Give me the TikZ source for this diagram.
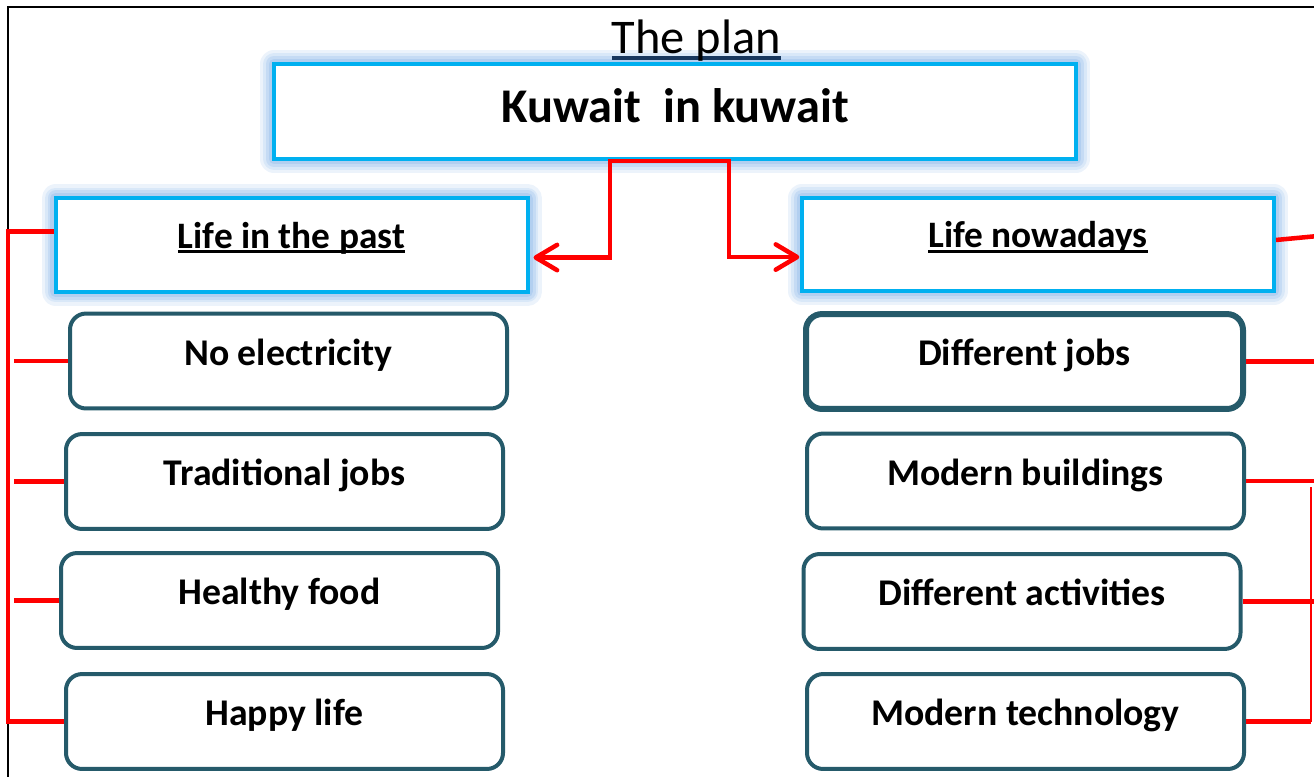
\documentclass[tikz,border=0pt]{standalone}
\usepackage{fontspec}
\setmainfont{Carlito}
\usepackage{tikz}
\usetikzlibrary{arrows.meta}

\definecolor{boxcyan}{RGB}{0,176,240}
\definecolor{glowblue}{RGB}{150,190,235}
\definecolor{itemteal}{RGB}{37,90,106}
\definecolor{linkred}{RGB}{255,0,0}
\definecolor{planline}{RGB}{23,55,94}

\newcommand{\wordul}[2][black]{\leavevmode\setbox0\hbox{#2}\rlap{\color{#1}\rule[-0.14em]{\wd0}{0.075em}}\box0}

\begin{document}
\begin{tikzpicture}[x=0.75pt,y=0.75pt,yscale=-1,xscale=1,
  headbox/.style={draw=boxcyan, line width=3pt, fill=white, minimum width=354pt, inner xsep=0pt, inner ysep=0pt,
    text height=37.15pt, text depth=32.65pt, font=\fontsize{28}{32}\selectfont\bfseries,
    preaction={draw=glowblue, line width=21pt, line join=round, draw opacity=0.18},
    preaction={draw=glowblue, line width=16pt, line join=round, draw opacity=0.22},
    preaction={draw=glowblue, line width=12pt, line join=round, draw opacity=0.3},
    preaction={draw=glowblue, line width=8pt, line join=round, draw opacity=0.4}},
  itembox/.style={draw=itemteal, line width=3pt, fill=white, rounded corners=12pt, minimum width=327.75pt,
    inner xsep=0pt, inner ysep=0pt, text height=38.6pt, text depth=32.6pt, font=\fontsize{28.3}{32}\selectfont\bfseries},
  link/.style={draw=linkred, line width=3.4pt},
  frameline/.style={draw=black, line width=1.5pt}]
\useasboundingbox (0,0) rectangle (1314,776);

\draw[frameline] (8,790) -- (8,7) -- (1330,7);

% title and the two heads
\node[headbox, minimum width=601.5pt, text height=43.5pt, text depth=27.7pt, font=\fontsize{36.3}{40}\selectfont\bfseries] (ktop) at (675,111.5) {Kuwait\ \ in kuwait};
\node[anchor=base, inner sep=0pt, font=\fontsize{36.3}{40}\selectfont] (plan) at (696.5,53) {\wordul[planline]{The plan}};
\node[headbox] (lpast) at (291.5,245) {\wordul{Life in the past}};
\node[headbox] (lnow) at (1038,244.5) {\wordul{Life nowadays}};

% past
\node[itembox] (elec) at (288.5,361) {No electricity};
\node[itembox] (tjobs) at (284.5,481.5) {Traditional jobs};
\node[itembox] (food) at (279.5,600.5) {Healthy food};
\node[itembox] (happy) at (284.5,721.5) {Happy life};

% nowadays
\node[itembox, line width=4.5pt] (djobs) at (1024.5,361.5) {Different jobs};
\node[itembox] (build) at (1025.5,481) {Modern buildings};
\node[itembox] (activ) at (1022,601.5) {Different activities};
\node[itembox] (tech) at (1025.5,721.5) {Modern technology};

\coordinate (railL) at (8,0);
\coordinate (stubL) at (14,0);
\coordinate (railR) at (1318,0);
\coordinate (railRin) at (1311,487);
\coordinate (railRtop) at (1318,236);

\draw[link, {Straight Barb[length=16pt,width=19pt,round]}-{Straight Barb[length=16pt,width=19pt,round]}]
  ([xshift=3pt,yshift=9.4pt]lpast.east) -| ([xshift=-48.75pt]ktop.south) -- ([xshift=40.5pt]ktop.south)
  |- ([xshift=-0.5pt,yshift=9.4pt]lnow.west);

\draw[link] ([yshift=-10.1pt]lpast.west) -| (railL |- happy.west) -- (happy.west);
\draw[link] (stubL |- elec.west) -- (elec.west);
\draw[link] (stubL |- tjobs.west) -- (tjobs.west);
\draw[link] (stubL |- food.west) -- (food.west);

\draw[link] ([yshift=-3.4pt]lnow.east) -- (railRtop);
\draw[link] (djobs.east) -- (railR |- djobs.east);
\draw[link] (build.east) -- (railR |- build.east);
\draw[link] (activ.east) -- (railR |- activ.east);
\draw[link] (tech.east) -- (railRin |- tech.east);
\draw[draw=linkred, line width=1.2pt] (railRin) -- (railRin |- tech.east);

\end{tikzpicture}
\end{document}
